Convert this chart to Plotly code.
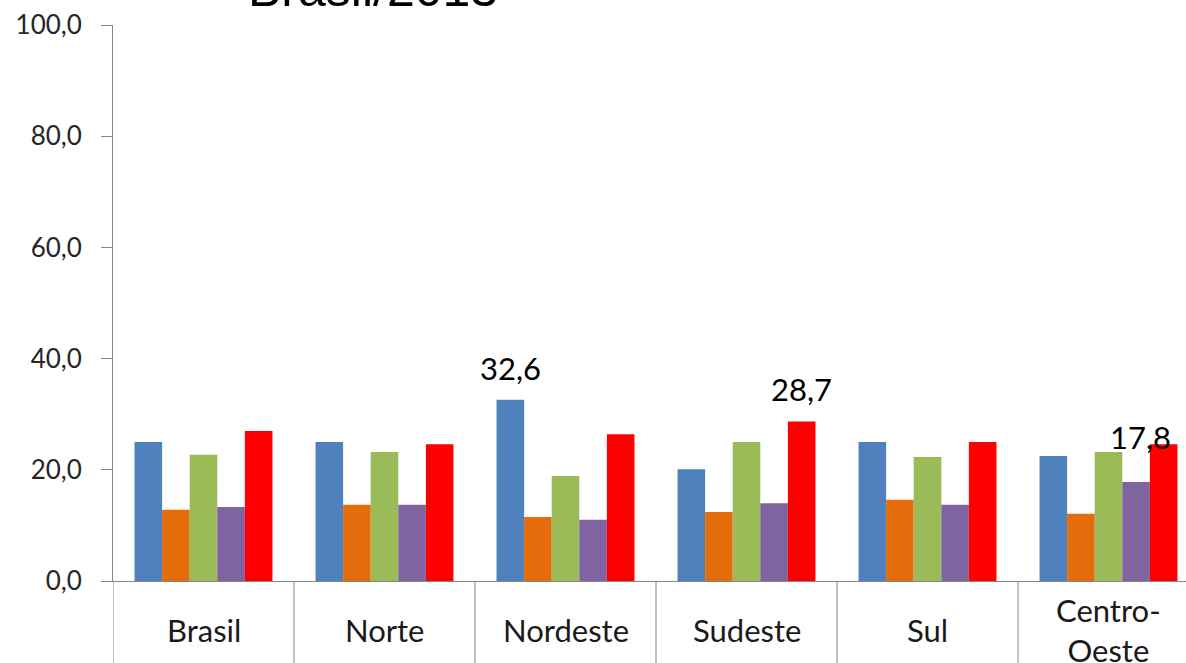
import plotly.graph_objects as go

categories = ["Brasil", "Norte", "Nordeste", "Sudeste", "Sul", "Centro-Oeste"]
category_labels = ["Brasil", "Norte", "Nordeste", "Sudeste", "Sul", "Centro-<br>Oeste"]
series_names = ["Série 1", "Série 2", "Série 3", "Série 4", "Série 5"]
series_values = [
    [25.0, 25.0, 32.6, 20.1, 25.0, 22.5],
    [12.8, 13.7, 11.5, 12.4, 14.6, 12.1],
    [22.7, 23.2, 18.9, 25.0, 22.3, 23.2],
    [13.3, 13.7, 11.0, 14.0, 13.7, 17.8],
    [27.0, 24.6, 26.4, 28.7, 25.0, 24.6],
]
colors = ["#4F81BD", "#E46C0A", "#9BBB59", "#8064A2", "#FF0000"]
y_ticks = [0, 20, 40, 60, 80, 100]
y_tick_labels = ["0,0", "20,0", "40,0", "60,0", "80,0", "100,0"]
# (series index, category index, text, extra xshift, yshift)
data_labels = [(0, 2, "32,6", 0, 32), (4, 3, "28,7", 0, 32), (3, 5, "17,8", 4, 45)]
title_text = "Brasil/2013"

W, H = 1186, 663
ML, MT, MB, MR = 113, 25, 82, 0
plot_h = H - MT - MB
bargap = 0.238
n_series = len(series_values)
bar_w = (1 - bargap) / n_series

fig = go.Figure()
for name, vals, col in zip(series_names, series_values, colors):
    fig.add_trace(go.Bar(x=categories, y=vals, name=name, marker_color=col,
                         marker_line_width=0, showlegend=False))

annotations = []
for si, ci, txt, dx, dy in data_labels:
    offset = (si - (n_series - 1) / 2) * bar_w
    annotations.append(dict(x=ci + offset, y=series_values[si][ci], xref="x", yref="y",
                            text=txt, showarrow=False, xshift=dx, yshift=dy,
                            yanchor="middle",
                            font=dict(family="Lato", size=31, color="#000000")))

label_y = -(630 - (H - MB)) / plot_h
for i, lab in enumerate(category_labels):
    annotations.append(dict(x=i, y=label_y, xref="x", yref="paper", text=lab,
                            showarrow=False, yanchor="middle", xanchor="center",
                            font=dict(family="Lato", size=31, color="#1a1a1a")))

annotations.append(dict(x=(373 - ML) / (W - ML - MR), y=1 + 6 / plot_h, xref="paper",
                        yref="paper", text=title_text, showarrow=False,
                        xanchor="center", yanchor="bottom",
                        font=dict(family="Liberation Sans", size=50, color="#000000")))

shapes = []
for i in range(len(categories) + 1):
    shapes.append(dict(type="line", xref="x", yref="paper", x0=i - 0.5, x1=i - 0.5,
                       y0=0, y1=-(MB + 5) / plot_h, line=dict(color="#868686", width=1)))

fig.update_layout(
    width=W, height=H,
    margin=dict(l=ML, r=MR, t=MT, b=MB),
    plot_bgcolor="white", paper_bgcolor="white",
    barmode="group", bargap=bargap, bargroupgap=0,
    annotations=annotations, shapes=shapes,
    xaxis=dict(range=[-0.5, 5.5 - 13 / 181], showticklabels=False, ticks="",
               showline=True, linecolor="#868686", linewidth=1, showgrid=False,
               zeroline=False, fixedrange=True),
    yaxis=dict(range=[0, 100], tickvals=y_ticks, ticktext=y_tick_labels,
               ticks="outside", ticklen=11, tickcolor="#868686", tickwidth=1,
               showline=True, linecolor="#868686", linewidth=1, showgrid=False,
               zeroline=False, ticklabelstandoff=14,
               tickfont=dict(family="Lato", size=26, color="#262626")),
)

fig.write_html("out.html", config={"displayModeBar": False},
               post_script="document.body.style.margin='0';document.body.style.overflow='hidden';")
